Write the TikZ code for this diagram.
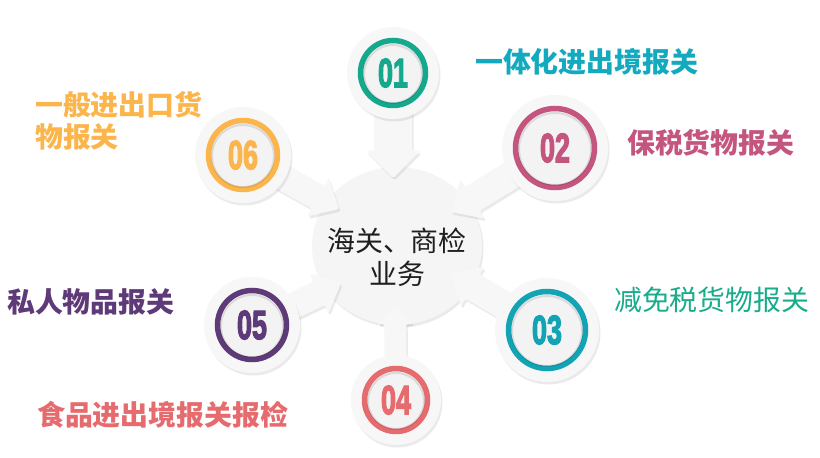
\documentclass[tikz,border=0pt]{standalone}
\usepackage{fontspec}
\newfontfamily\cjk{Noto Sans CJK SC}
\newfontfamily\numf{Liberation Sans}[FakeBold=3.4]
\usetikzlibrary{calc,shadows,shapes.geometric}
\definecolor{cA}{HTML}{14A88C}
\definecolor{cB}{HTML}{C4557F}
\definecolor{cC}{HTML}{12A3B4}
\definecolor{cD}{HTML}{E66B6E}
\definecolor{cE}{HTML}{5E3A78}
\definecolor{cF}{HTML}{FBB54B}
\definecolor{lA}{HTML}{13AABF}
\definecolor{lC}{HTML}{19AC8B}
\definecolor{discfill}{HTML}{F7F7F7}
\definecolor{innerfill}{HTML}{F3F3F3}
\definecolor{hubfill}{HTML}{F5F5F5}
\tikzset{
  softshadow/.style={drop shadow={opacity=0.16, shadow xshift=1.5bp, shadow yshift=-2.5bp}},
  hubdisc/.style={ellipse, fill=hubfill, softshadow, inner sep=0pt},
  arrowbody/.style={fill=discfill, rounded corners=1.5bp, softshadow},
  outerdisc/.style={circle, inner sep=0pt, fill=discfill, softshadow},
  ringdisc/.style={circle, inner sep=0pt, fill=innerfill, line width=5.5bp},
  lbl/.style={font=\cjk\bfseries\fontsize{28}{32}\selectfont, inner sep=0pt, anchor=west},
  lblreg/.style={font=\cjk\fontsize{28}{32}\selectfont, inner sep=0pt, anchor=west},
  numtxt/.style={font=\numf\bfseries\fontsize{41}{41}\selectfont, inner sep=0pt},
}
% #1 id, #2 centre, #3 tip, #4 ring radius, #5 stem half width, #6 head half width, #7 head length, #8 colour, #9 number
\newcommand\satnode[9]{%
  \coordinate (S#1) at #2;
  \coordinate (T#1) at #3;
  \coordinate (B#1) at ($(T#1)!#7bp!(S#1)$);
  \path[arrowbody] ($(S#1)!#5bp!90:(T#1)$) -- ($(B#1)!#5bp!90:(T#1)$) -- ($(B#1)!#6bp!90:(T#1)$) -- (T#1)
     -- ($(B#1)!#6bp!-90:(T#1)$) -- ($(B#1)!#5bp!-90:(T#1)$) -- ($(S#1)!#5bp!-90:(T#1)$) -- cycle;
  \node[outerdisc, minimum size={2*(#4+11)*1bp}] (d#1) at (S#1) {};
  \node[ringdisc, draw=#8, minimum size={2*(#4-2.5)*1bp}] (r#1) at (S#1) {};
  \draw[black, opacity=0.10, line width=2bp] ($(S#1)+(0,1)$) circle[radius={(#4-6)*1bp}];
  \node[numtxt, text=#8] (n#1) at (S#1) {\scalebox{0.66}[1]{#9}};
}
\begin{document}
\begin{tikzpicture}[x=1bp,y=-1bp]
\useasboundingbox (0,0) rectangle (820,458);
\fill[white] (0,0) rectangle (820,458);
\node[hubdisc, minimum width=170bp, minimum height=158bp] (hub) at (397,246) {};
\node[font=\cjk\fontsize{28}{33}\selectfont, align=center, text=black!88, inner sep=0pt] (hubtxt) at (397,257) {海关、商检\\业务};

\satnode{1}{(393,73)}{(393,178)}{35}{19}{27}{27}{cA}{01}
\satnode{2}{(555,148)}{(451,212)}{42}{14}{23}{25}{cB}{02}
\satnode{3}{(547,330)}{(451,274)}{41}{14}{23}{25}{cC}{03}
\satnode{4}{(396,400)}{(395,305)}{34}{11}{18}{19}{cD}{04}
\satnode{5}{(252,325)}{(341,283)}{37}{13}{22}{24}{cE}{05}
\satnode{6}{(243,155)}{(339,209)}{37}{13}{22}{24}{cF}{06}

\node[lbl, text=lA] (L1) at (475,62) {一体化进出境报关};
\node[lbl, text=cB] (L2) at (627,143) {保税货物报关};
\node[lblreg, text=lC] (L3) at (614,300) {减免税货物报关};
\node[lbl, text=cD] (L4) at (37,415) {食品进出境报关报检};
\node[lbl, text=cE] (L5) at (7,302) {私人物品报关};
\node[lbl, text=cF, align=left] (L6) at (35,121) {一般进出口货\\物报关};
\end{tikzpicture}
\end{document}
